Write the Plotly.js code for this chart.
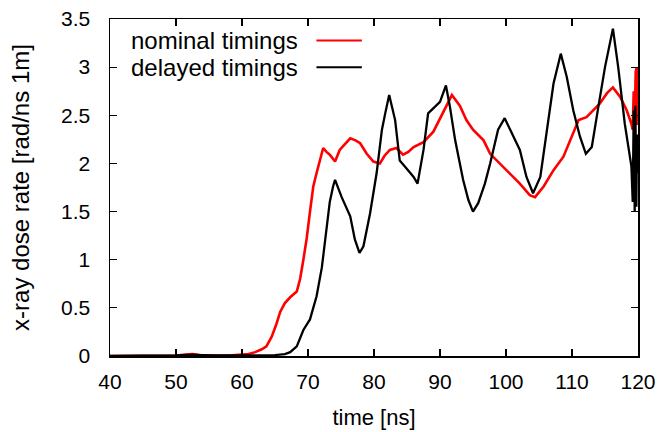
<!DOCTYPE html>
<html>
<head>
<meta charset="utf-8">
<script src="https://cdn.plot.ly/plotly-3.0.1.min.js"></script>
<style>html,body{margin:0;padding:0;background:#fff;}#chart{width:660px;height:432px;}</style>
</head>
<body>
<div id="chart"></div>
<script>
// nominal timings (red)
var nominalTime = [
  40, 45, 50, 51.5, 52.5, 53.5, 55, 58, 60, 61,
  62, 63, 63.7, 64.5, 65.2, 65.8, 66.5, 67.3, 68.3, 68.8,
  69.3, 69.8, 70.3, 70.8, 71.3, 71.8, 72.3, 72.8, 73.3, 74.1,
  74.8, 75.6, 76.4, 77.2, 77.9, 78.9, 79.9, 80.9, 81.6, 82.4,
  83.4, 84.4, 85.2, 86, 87.5, 89, 90.5, 91.8, 93, 94,
  95, 96.6, 97.6, 99.1, 100.6, 102.1, 103.6, 104.4, 105.7, 107.2,
  108.7, 110, 111, 112.2, 113.2, 114.2, 115.3, 116.2, 117.3, 118.3,
  119, 119.2, 119.35, 119.5, 119.65, 119.8, 119.9, 120];
var nominalRate = [
  0, 0, 0.005, 0.015, 0.02, 0.01, 0.005, 0.005, 0.01, 0.02,
  0.04, 0.07, 0.1, 0.2, 0.33, 0.46, 0.55, 0.61, 0.67, 0.8,
  1.0, 1.22, 1.5, 1.76, 1.9, 2.03, 2.16, 2.12, 2.09, 2.02,
  2.14, 2.2, 2.26, 2.24, 2.21, 2.1, 2.02, 2.0, 2.08, 2.14,
  2.16, 2.09, 2.12, 2.17, 2.22, 2.33, 2.53, 2.71, 2.6, 2.45,
  2.35, 2.24, 2.1, 2.0, 1.9, 1.79, 1.67, 1.65, 1.76, 1.93,
  2.07, 2.28, 2.45, 2.48, 2.55, 2.62, 2.73, 2.79, 2.69, 2.55,
  2.41, 2.35, 2.75, 2.45, 2.95, 3.0, 2.4, 2.85];

// delayed timings (black)
var delayedTime = [
  40, 45, 50, 51, 52.5, 54, 56, 60, 63, 65,
  66.5, 67.3, 68.3, 69.3, 70.3, 71.3, 72.1, 72.8, 73.3, 73.8,
  74.1, 75.1, 76.4, 77.1, 77.8, 78.4, 79.4, 80.4, 81.2, 81.7,
  82.3, 83.2, 83.9, 84.9, 86, 86.6, 87.5, 88.2, 89, 90,
  90.9, 91.5, 92.3, 93.5, 94.3, 95, 95.8, 96.8, 97.6, 98.8,
  99.8, 100.9, 102.1, 103.1, 104.1, 105.2, 106.2, 107.2, 108.3, 109.2,
  110.2, 111.2, 112.1, 113, 114, 115, 116.2, 117, 118, 119,
  119.2, 119.35, 119.5, 119.6, 119.75, 119.85, 120];
var delayedRate = [
  0, 0, 0.005, 0.01, 0.015, 0.01, 0.005, 0.005, 0.005, 0.01,
  0.02, 0.04, 0.1, 0.27, 0.38, 0.62, 0.92, 1.34, 1.6, 1.76,
  1.83, 1.65, 1.45, 1.21, 1.07, 1.14, 1.48, 1.9, 2.35, 2.52,
  2.71, 2.45, 2.03, 1.95, 1.86, 1.79, 2.14, 2.52, 2.57, 2.64,
  2.81, 2.59, 2.24, 1.83, 1.62, 1.5, 1.59, 1.79, 2.0, 2.35,
  2.47, 2.31, 2.14, 1.86, 1.69, 1.86, 2.35, 2.83, 3.14, 2.9,
  2.55, 2.28, 2.1, 2.17, 2.59, 3.0, 3.4, 3.0, 2.41, 1.97,
  1.6, 2.55, 1.5, 2.6, 1.55, 2.3, 1.9];

var xTickVals = [40, 50, 60, 70, 80, 90, 100, 110, 120];
var yTickVals = [0, 0.5, 1, 1.5, 2, 2.5, 3, 3.5];
var yTickText = ['0', '0.5', '1', '1.5', '2', '2.5', '3', '3.5'];
var seriesNames = ['nominal timings', 'delayed timings'];

var FONT = 'Liberation Sans, Arial, Helvetica, sans-serif';

var traces = [
  {x: nominalTime, y: nominalRate, mode: 'lines', name: seriesNames[0], line: {color: '#ff0000', width: 2.6}, showlegend: false},
  {x: delayedTime, y: delayedRate, mode: 'lines', name: seriesNames[1], line: {color: '#000000', width: 2.3}, showlegend: false}
];

var layout = {
  width: 660, height: 432,
  margin: {l: 110, r: 22, t: 18.5, b: 75.5},
  paper_bgcolor: '#fff', plot_bgcolor: '#fff',
  font: {family: FONT, size: 21, color: '#000'},
  xaxis: {
    range: [40, 120], tickvals: xTickVals, ticks: 'inside', ticklen: 7, tickwidth: 1.2, tickcolor: '#000',
    showline: true, linecolor: '#000', linewidth: 1.5, mirror: 'ticks', showgrid: false, zeroline: false,
    ticklabelstandoff: 6, tickfont: {family: FONT, size: 21, color: '#000'},
    title: {text: 'time [ns]', font: {family: FONT, size: 22, color: '#000'}, standoff: 18}
  },
  yaxis: {
    range: [0, 3.5], tickvals: yTickVals, ticktext: yTickText, ticks: 'inside', ticklen: 7, tickwidth: 1.2, tickcolor: '#000',
    showline: true, linecolor: '#000', linewidth: 1.5, mirror: 'ticks', showgrid: false, zeroline: false,
    ticklabelstandoff: 14, tickfont: {family: FONT, size: 21, color: '#000'},
    title: {text: 'x-ray dose rate [rad/ns 1m]', font: {family: FONT, size: 24, color: '#000'}, standoff: 24}
  },
  annotations: [
    {xref: 'paper', yref: 'paper', x: 0.36, y: 0.936, xanchor: 'right', yanchor: 'middle', showarrow: false, text: seriesNames[0], font: {family: FONT, size: 24, color: '#000'}},
    {xref: 'paper', yref: 'paper', x: 0.36, y: 0.857, xanchor: 'right', yanchor: 'middle', showarrow: false, text: seriesNames[1], font: {family: FONT, size: 24, color: '#000'}}
  ],
  shapes: [
    {type: 'line', xref: 'paper', yref: 'paper', x0: 0.391, x1: 0.477, y0: 0.936, y1: 0.936, line: {color: '#ff0000', width: 2}},
    {type: 'line', xref: 'paper', yref: 'paper', x0: 0.391, x1: 0.477, y0: 0.857, y1: 0.857, line: {color: '#000000', width: 2}}
  ]
};

Plotly.newPlot('chart', traces, layout, {displayModeBar: false, staticPlot: true});
</script>
</body>
</html>
